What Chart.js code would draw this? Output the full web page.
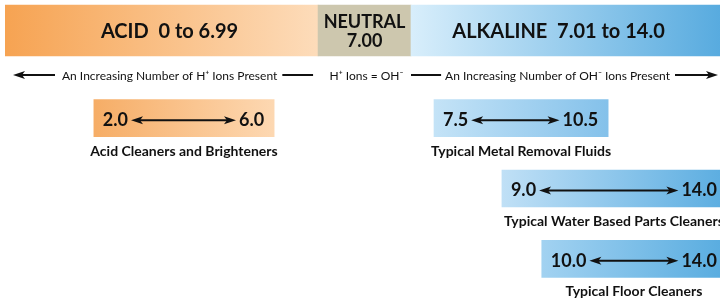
<!DOCTYPE html>
<html>
<head>
<meta charset="utf-8">
<script src="https://cdn.jsdelivr.net/npm/chart.js@4.4.1/dist/chart.umd.min.js"></script>
<style>
  html, body { margin: 0; padding: 0; background: #ffffff; }
  #wrap { width: 720px; height: 301px; position: relative; }
</style>
</head>
<body>
<div id="wrap"><canvas id="phChart"></canvas></div>
<script>
// pH bands across the top (x axis is the pH scale)
const bandLabels = ["ACID  0 to 6.99", "NEUTRAL\n7.00", "ALKALINE  7.01 to 14.0"];
const bandStart = [0, 6.13, 7.95];
const bandEnd = [6.13, 7.95, 14];

// notes under the bands
const ionNotes = [
  "An Increasing Number of H\u207A Ions Present",
  "H\u207A Ions = OH\u207B",
  "An Increasing Number of OH\u207B Ions Present",
];

// product boxes
const rowLabels = ["row1", "row2", "row3"];
const productNames = [
  "Acid Cleaners and Brighteners",
  "Typical Metal Removal Fluids",
  "Typical Water Based Parts Cleaners",
  "Typical Floor Cleaners",
];
const productLow = ["2.0", "7.5", "9.0", "10.0"];
const productHigh = ["6.0", "10.5", "14.0", "14.0"];
const productRow = ["row1", "row1", "row2", "row3"];
const boxStart = [1.74, 8.4, 9.73, 10.51];
const boxEnd = [5.27, 11.81, 14, 14];

// gradient colours (left -> right)
const bandFrom = ["#f6a352", "#cdc7ae", "#d8eefb"];
const bandTo = ["#fddcba", "#cdc7ae", "#58abdf"];
const boxFrom = ["#f6ad66", "#c4e3f7", "#c0e0f6", "#a2d2f1"];
const boxTo = ["#fdd8b2", "#84c1ea", "#5daee1", "#5aade0"];

const FONT = "Lato, 'Open Sans', sans-serif";

function gradientFill(fromColors, toColors) {
  return (context) => {
    const chart = context.chart;
    const i = context.dataIndex;
    if (i === undefined || !chart.chartArea || !context.raw) return fromColors[0];
    const xs = chart.scales.x;
    const x0 = xs.getPixelForValue(context.raw.x[0]);
    const x1 = xs.getPixelForValue(context.raw.x[1]);
    const g = chart.ctx.createLinearGradient(x0, 0, x1, 0);
    g.addColorStop(0, fromColors[i]);
    g.addColorStop(1, toColors[i]);
    return g;
  };
}

function arrowHead(ctx, x, y, dir) {
  // dir: -1 points left, 1 points right
  ctx.beginPath();
  ctx.moveTo(x, y);
  ctx.lineTo(x - dir * 12, y - 4);
  ctx.lineTo(x - dir * 9, y);
  ctx.lineTo(x - dir * 12, y + 4);
  ctx.closePath();
  ctx.fill();
}

function line(ctx, x0, x1, y) {
  ctx.beginPath();
  ctx.moveTo(x0, y);
  ctx.lineTo(x1, y);
  ctx.stroke();
}

// draws all the text and arrows on top of the bars
const phLabels = {
  id: "phLabels",
  afterDatasetsDraw(chart) {
    const ctx = chart.ctx;
    const bands = chart.getDatasetMeta(0).data;
    const boxes = chart.getDatasetMeta(1).data;
    const headShift = [8, 0, -7];

    ctx.save();
    ctx.fillStyle = "#111111";
    ctx.strokeStyle = "#111111";
    ctx.lineWidth = 2;
    ctx.textBaseline = "alphabetic";

    // band titles
    bands.forEach((bar, i) => {
      const p = bar.getProps(["x", "y", "base", "height"], true);
      const cx = (p.x + p.base) / 2 + headShift[i];
      const lines = bandLabels[i].split("\n");
      ctx.textAlign = "center";
      if (lines.length > 1) {
        ctx.font = "bold 18px " + FONT;
        ctx.fillText(lines[0], cx, p.y - 2.5);
        ctx.fillText(lines[1], cx, p.y + 16.5);
      } else {
        ctx.font = "bold 20px " + FONT;
        ctx.fillText(lines[0], cx, p.y + 7.5);
      }
    });

    // ion notes row
    const b0 = bands[0].getProps(["x", "y", "base", "height"], true);
    const b1 = bands[1].getProps(["x", "y", "base", "height"], true);
    const b2 = bands[2].getProps(["x", "y", "base", "height"], true);
    const ny = b0.y + b0.height / 2 + 19;
    ctx.font = "12px " + FONT;
    ctx.textBaseline = "middle";

    // left: arrow, text, line
    let tx = b0.base + 57;
    let w = ctx.measureText(ionNotes[0]).width;
    ctx.textAlign = "left";
    ctx.fillText(ionNotes[0], tx, ny + 1);
    line(ctx, b0.base + 14, tx - 7, ny);
    arrowHead(ctx, b0.base + 8, ny, -1);
    line(ctx, tx + w + 5, b0.x - 5, ny);

    // middle
    ctx.textAlign = "center";
    ctx.fillText(ionNotes[1], (b1.x + b1.base) / 2 + 2, ny + 1);

    // right: line, text, arrow
    w = ctx.measureText(ionNotes[2]).width;
    tx = b2.x - 50;
    ctx.textAlign = "right";
    ctx.fillText(ionNotes[2], tx, ny + 1);
    line(ctx, b2.base, tx - w - 4, ny);
    line(ctx, tx + 5, b2.x - 8, ny);
    arrowHead(ctx, b2.x - 2, ny, 1);

    // product boxes
    boxes.forEach((bar, i) => {
      const p = bar.getProps(["x", "y", "base", "height"], true);
      const left = p.base;
      const right = p.x;
      const atEdge = right >= chart.chartArea.right - 1;
      const vy = p.y + 2;
      ctx.font = "bold 18px " + FONT;
      ctx.textBaseline = "middle";
      ctx.textAlign = "left";
      const lx = left + 9;
      ctx.fillText(productLow[i], lx, vy);
      const lw = ctx.measureText(productLow[i]).width;
      ctx.textAlign = "right";
      const rx = atEdge ? right - 3 : right - 10;
      ctx.fillText(productHigh[i], rx, vy);
      const rw = ctx.measureText(productHigh[i]).width;
      const a0 = lx + lw + 3;
      const a1 = rx - rw - 3;
      line(ctx, a0 + 6, a1 - 6, vy);
      arrowHead(ctx, a0, vy, -1);
      arrowHead(ctx, a1, vy, 1);

      // name under the box
      ctx.font = "bold 14px " + FONT;
      ctx.textAlign = "center";
      ctx.textBaseline = "alphabetic";
      ctx.fillText(productNames[i], (left + right) / 2 + (atEdge ? 3 : 0), p.y + p.height / 2 + 19);
    });

    ctx.restore();
  },
};

function initPhChart() {
  const ctx = document.getElementById("phChart").getContext("2d");
  return new Chart(ctx, {
    type: "bar",
    data: {
      datasets: [
        {
          label: "pH bands",
          yAxisID: "yHead",
          data: bandStart.map((s, i) => ({ x: [s, bandEnd[i]], y: "pH" })),
          backgroundColor: gradientFill(bandFrom, bandTo),
          borderWidth: 0,
          barThickness: 51,
          grouped: false,
        },
        {
          label: "Products",
          yAxisID: "yRows",
          data: boxStart.map((s, i) => ({ x: [s, boxEnd[i]], y: productRow[i] })),
          backgroundColor: gradientFill(boxFrom, boxTo),
          borderWidth: 0,
          barThickness: 37,
          grouped: false,
        },
      ],
    },
    options: {
      indexAxis: "y",
      responsive: true,
      maintainAspectRatio: false,
      animation: false,
      events: [],
      layout: { padding: { left: 5, right: 0, top: 0, bottom: 7 } },
      plugins: {
        legend: { display: false },
        tooltip: { enabled: false },
      },
      scales: {
        x: { type: "linear", min: 0, max: 14, display: false },
        // stacked y axes: bands on top, a gap for the notes, product rows below
        yRows: { type: "category", labels: rowLabels, offset: true, display: false, stack: "ph", stackWeight: 211 },
        yGap: { type: "category", labels: ["notes"], offset: true, display: false, stack: "ph", stackWeight: 22 },
        yHead: { type: "category", labels: ["pH"], offset: true, display: false, stack: "ph", stackWeight: 61 },
      },
    },
    plugins: [phLabels],
  });
}

initPhChart();
</script>
</body>
</html>
